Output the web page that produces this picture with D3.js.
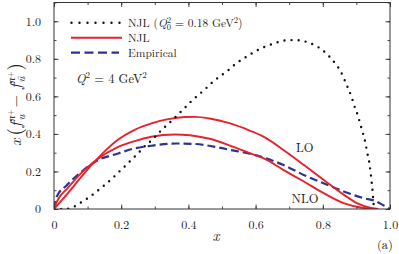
<!DOCTYPE html>
<html><head><meta charset="utf-8">
<script src="https://cdn.jsdelivr.net/npm/d3@7"></script>
<style>body{margin:0;background:#fff}svg{display:block}text{font-family:"Latin Modern Roman","Liberation Serif",serif;fill:#222}</style>
</head><body>
<svg id="c" width="399" height="254" font-family="Latin Modern Roman, Liberation Serif, serif"></svg>
<script>
// NJL at model scale Q0^2 = 0.18 GeV^2 (dotted)
const njl0X = [0,0.03,0.057,0.082,0.105,0.128,0.149,0.171,0.191,0.212,0.232,0.251,0.271,0.293,0.312,0.331,0.35,0.37,0.39,0.41,0.433,0.453,0.475,0.498,0.52,0.542,0.565,0.588,0.613,0.639,0.665,0.692,0.72,0.748,0.775,0.799,0.819,0.837,0.853,0.865,0.876,0.886,0.894,0.904,0.912,0.92,0.927,0.932,0.938,0.942,0.945,0.948,0.95,0.953,0.958];
const njl0Y = [0,0.0,0.01,0.037,0.063,0.095,0.125,0.159,0.194,0.229,0.265,0.298,0.336,0.37,0.406,0.439,0.47,0.505,0.54,0.577,0.612,0.644,0.681,0.712,0.741,0.775,0.802,0.828,0.853,0.872,0.888,0.899,0.9,0.892,0.873,0.847,0.813,0.775,0.733,0.687,0.64,0.595,0.548,0.5,0.45,0.4,0.351,0.302,0.251,0.199,0.15,0.097,0.051,0.004,0];
// NJL evolved to Q^2 = 4 GeV^2, LO
const loX = [0,0.03,0.06,0.09,0.125,0.16,0.191,0.24,0.29,0.34,0.389,0.42,0.463,0.522,0.582,0.626,0.685,0.745,0.804,0.864,0.903,0.943,0.965];
const loY = [0,0.06,0.125,0.19,0.26,0.323,0.37,0.422,0.456,0.479,0.49,0.491,0.482,0.457,0.418,0.383,0.312,0.233,0.153,0.074,0.03,0.006,0];
// NJL evolved to Q^2 = 4 GeV^2, NLO
const nloX = [0,0.01,0.04,0.08,0.125,0.191,0.24,0.29,0.36,0.404,0.463,0.522,0.582,0.626,0.685,0.745,0.804,0.864,0.913,0.962];
const nloY = [0,0.045,0.11,0.19,0.26,0.331,0.362,0.385,0.397,0.393,0.374,0.339,0.298,0.268,0.206,0.145,0.083,0.03,0.008,0];
// Empirical
const empX = [0,0.008,0.038,0.087,0.122,0.191,0.235,0.29,0.364,0.413,0.483,0.532,0.582,0.626,0.685,0.745,0.804,0.864,0.923,0.953,0.98,1.0];
const empY = [0,0.065,0.127,0.206,0.252,0.296,0.321,0.337,0.349,0.347,0.33,0.312,0.295,0.273,0.233,0.18,0.136,0.092,0.057,0.045,0.02,0];

const xTicks = [0,0.2,0.4,0.6,0.8,1.0];
const yTicks = [0,0.2,0.4,0.6,0.8,1.0];
const xTickLabels = ["0","0.2","0.4","0.6","0.8","1.0"];
const yTickLabels = ["0","0.2","0.4","0.6","0.8","1.0"];

const svg = d3.select("#c");
const L=54,R=390,T=2.5,B=209;
const x = d3.scaleLinear().domain([0,1]).range([L,R]);
const y = d3.scaleLinear().domain([0,1.1]).range([B,T]);

const red="#e8212b", blue="#2b3590", ink="#333";
const serif="Latin Modern Roman, Liberation Serif, serif";

svg.append("defs").append("clipPath").attr("id","pc").append("rect").attr("x",L).attr("y",T).attr("width",R-L).attr("height",B-T);

const line = d3.line().x(d=>x(d[0])).y(d=>y(d[1])).curve(d3.curveMonotoneX);
const zip=(a,b)=>a.map((v,i)=>[v,b[i]]);
const g = svg.append("g").attr("clip-path","url(#pc)");

g.append("path").attr("d",line(zip(empX,empY))).attr("fill","none").attr("stroke",blue).attr("stroke-width",2.2).attr("stroke-dasharray","8,4");
g.append("path").attr("d",line(zip(loX,loY))).attr("fill","none").attr("stroke",red).attr("stroke-width",1.9);
g.append("path").attr("d",line(zip(nloX,nloY))).attr("fill","none").attr("stroke",red).attr("stroke-width",1.9);
g.append("path").attr("d",line(zip(njl0X,njl0Y))).attr("fill","none").attr("stroke","#111").attr("stroke-width",2.4).attr("stroke-linecap","round").attr("stroke-dasharray","0,7.1");

// axes (ticks inward, all four sides)
const fmt=(labels,ticks)=>d=>{const i=ticks.indexOf(d);return i>=0?labels[i]:"";};
function styleAxis(sel){sel.attr("font-family",serif);sel.select(".domain").remove();sel.selectAll("line").attr("stroke",ink).attr("stroke-width",0.9);sel.selectAll("text").attr("fill","#222").attr("font-family",serif).style("font-size","12px");}
const xMinor=d3.range(0,1.0001,0.1), yMinor=d3.range(0,1.1001,0.1);
svg.append("g").attr("transform",`translate(0,${B})`).call(d3.axisBottom(x).tickValues(xTicks).tickFormat(fmt(xTickLabels,xTicks)).tickSizeInner(-4.5).tickSizeOuter(0).tickPadding(11)).call(styleAxis);
svg.append("g").attr("transform",`translate(0,${B})`).call(d3.axisBottom(x).tickValues(xMinor).tickFormat("").tickSize(-2.5)).call(styleAxis);
svg.append("g").attr("transform",`translate(0,${T})`).call(d3.axisTop(x).tickValues(xTicks).tickFormat("").tickSize(-4.5)).call(styleAxis);
svg.append("g").attr("transform",`translate(0,${T})`).call(d3.axisTop(x).tickValues(xMinor).tickFormat("").tickSize(-2.5)).call(styleAxis);
svg.append("g").attr("transform",`translate(${L},0)`).call(d3.axisLeft(y).tickValues(yTicks).tickFormat(fmt(yTickLabels,yTicks)).tickSizeInner(-4.5).tickSizeOuter(0).tickPadding(13)).call(styleAxis);
svg.append("g").attr("transform",`translate(${L},0)`).call(d3.axisLeft(y).tickValues(yMinor).tickFormat("").tickSize(-2.5)).call(styleAxis);
svg.append("g").attr("transform",`translate(${R},0)`).call(d3.axisRight(y).tickValues(yTicks).tickFormat("").tickSize(-4.5)).call(styleAxis);
svg.append("g").attr("transform",`translate(${R},0)`).call(d3.axisRight(y).tickValues(yMinor).tickFormat("").tickSize(-2.5)).call(styleAxis);
svg.append("rect").attr("x",L).attr("y",T).attr("width",R-L).attr("height",B-T).attr("fill","none").attr("stroke",ink).attr("stroke-width",1);

// legend
const lg=svg.append("g");
lg.append("line").attr("x1",71.5).attr("x2",120).attr("y1",22.7).attr("y2",22.7).attr("stroke","#111").attr("stroke-width",2.4).attr("stroke-linecap","round").attr("stroke-dasharray","0,8");
lg.append("line").attr("x1",71).attr("x2",122).attr("y1",37.7).attr("y2",37.7).attr("stroke",red).attr("stroke-width",1.9);
lg.append("line").attr("x1",71).attr("x2",119).attr("y1",52.7).attr("y2",52.7).attr("stroke",blue).attr("stroke-width",2.2).attr("stroke-dasharray","9,4.5");
const t1=lg.append("text").attr("x",128).attr("y",27).style("font-size","11.5px");
t1.append("tspan").text("NJL (");
t1.append("tspan").style("font-style","italic").text("Q");
t1.append("tspan").attr("dy",-4.5).style("font-size","8.5px").text("2");
t1.append("tspan").attr("dx",-4.3).attr("dy",7.5).style("font-size","8.5px").text("0");
t1.append("tspan").attr("dy",-3).text(" = 0.18 GeV");
t1.append("tspan").attr("dy",-4.5).style("font-size","8.5px").text("2");
t1.append("tspan").attr("dy",4.5).text(")");
lg.append("text").attr("x",128).attr("y",42).style("font-size","11.5px").text("NJL");
lg.append("text").attr("x",128).attr("y",57).style("font-size","11.5px").text("Empirical");
const t2=svg.append("text").attr("x",76).attr("y",83).style("font-size","12.5px");
t2.append("tspan").style("font-style","italic").text("Q");
t2.append("tspan").attr("dy",-5).style("font-size","9px").text("2");
t2.append("tspan").attr("dy",5).text(" = 4 GeV");
t2.append("tspan").attr("dy",-5).style("font-size","9px").text("2");

// curve labels
svg.append("text").attr("x",296).attr("y",152).style("font-size","12.5px").text("LO");
svg.append("text").attr("x",291.5).attr("y",203).style("font-size","12.5px").text("NLO");

// axis titles
svg.append("text").attr("x",216).attr("y",241).attr("text-anchor","middle").style("font-size","15px").style("font-style","italic").text("x");
svg.append("text").attr("x",377).attr("y",249).style("font-size","12.5px").text("(a)");
const yl=svg.append("text").attr("transform","translate(21,146) rotate(-90)").style("font-size","16px");
yl.append("tspan").style("font-style","italic").text("x");
yl.append("tspan").attr("dx",3).style("font-size","19px").text("(");
yl.append("tspan").attr("dx",1).style("font-style","italic").text("f");
yl.append("tspan").attr("dx",1).attr("dy",-6).style("font-size","11px").style("font-style","italic").text("π");
yl.append("tspan").attr("dy",-2.5).style("font-size","8px").text("+");
yl.append("tspan").attr("dx",-11).attr("dy",12.5).style("font-size","11px").style("font-style","italic").text("u");
yl.append("tspan").attr("dx",7).attr("dy",-4).text("−");
yl.append("tspan").attr("dx",6).style("font-style","italic").text("f");
yl.append("tspan").attr("dx",1).attr("dy",-6).style("font-size","11px").style("font-style","italic").text("π");
yl.append("tspan").attr("dy",-2.5).style("font-size","8px").text("+");
yl.append("tspan").attr("dx",-11).attr("dy",12.5).style("font-size","11px").style("font-style","italic").text("ū");
yl.append("tspan").attr("dx",6).attr("dy",-4).style("font-size","19px").text(")");
</script>
</body></html>
